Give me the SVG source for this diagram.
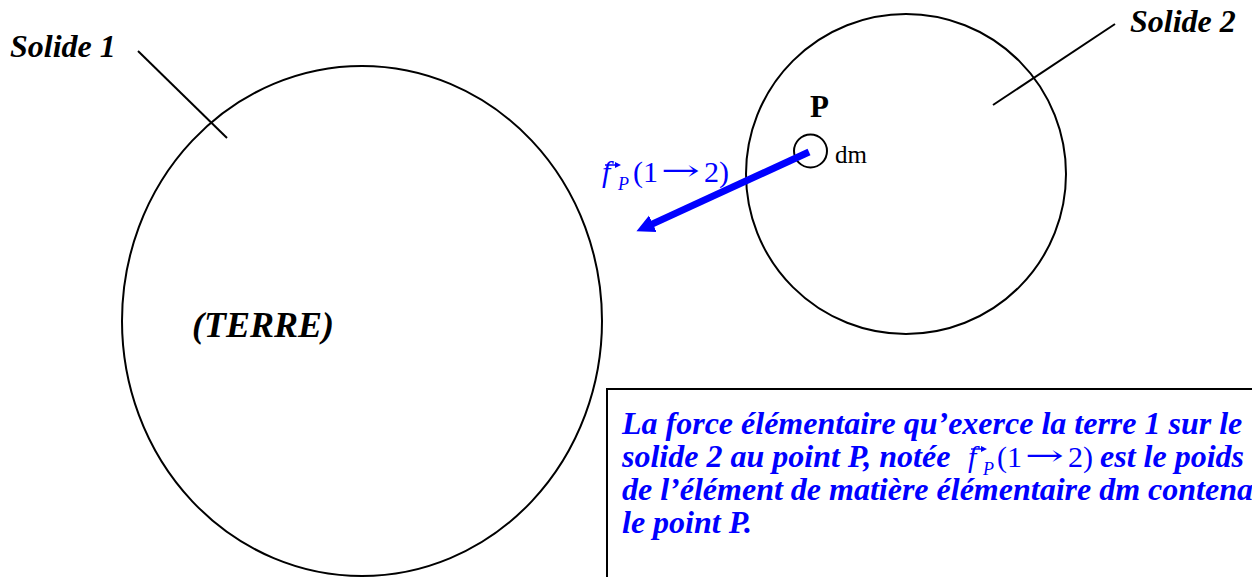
<svg xmlns="http://www.w3.org/2000/svg" width="1252" height="577" viewBox="0 0 1252 577">
<style>
.outline{fill:none;stroke:#000;stroke-width:2}
.lead{stroke:#000;stroke-width:2;fill:none}
.lbl{font-family:"Liberation Serif","Times New Roman",serif;font-weight:bold;font-style:italic;fill:#000}
.blue{font-family:"Liberation Serif","Times New Roman",serif;fill:#0000FF}
.arr{font-family:"DejaVu Serif",serif;fill:#0000FF}
.box{font-family:"Liberation Serif","Times New Roman",serif;font-weight:bold;font-style:italic;fill:#0000FF;font-size:32px}
.force{stroke:#0000FF;stroke-width:7;fill:none}
</style>
<defs>
<marker id="ah" markerUnits="userSpaceOnUse" markerWidth="22" markerHeight="22" viewBox="0 -11 22 22" refX="2" refY="0" orient="auto">
<path d="M0,-9 L18,0 L0,9 z" fill="#0000FF"/>
</marker>
<marker id="va" markerUnits="userSpaceOnUse" markerWidth="8" markerHeight="8" viewBox="0 -4 8 8" refX="1" refY="0" orient="auto">
<path d="M0,-3 L6,0 L0,3 z" fill="#0000FF"/>
</marker>
</defs>
<rect width="1252" height="577" fill="#fff"/>

<g id="solide1">
<ellipse class="outline" cx="362" cy="321" rx="240" ry="255"/>
<text class="lbl" x="10" y="57" font-size="32">Solide 1</text>
<text class="lbl" x="192" y="337" font-size="36">(TERRE)</text>
</g>

<g id="solide2">
<ellipse class="outline" cx="906" cy="174" rx="160" ry="160"/>
<text class="lbl" x="1130" y="32" font-size="32">Solide 2</text>
</g>

<g id="pointP">
<circle class="outline" cx="810.5" cy="151" r="16.5"/>
<text x="810" y="117" font-family="Liberation Serif, serif" font-weight="bold" font-size="31">P</text>
<text x="835" y="163" font-family="Liberation Serif, serif" font-size="25">dm</text>
</g>

<g id="forceLabel">
<text class="blue" x="602" y="182" font-size="30" font-style="italic">f</text>
<line x1="605" y1="165" x2="616" y2="165" stroke="#0000FF" stroke-width="1.5" marker-end="url(#va)"/>
<text class="blue" x="618" y="190" font-size="18" font-style="italic">P</text>
<text class="blue" x="633" y="182" font-size="30">(1</text>
<text class="arr" x="661" y="180" font-size="28" textLength="39" lengthAdjust="spacingAndGlyphs">→</text>
<text class="blue" x="704" y="182" font-size="30">2)</text>
</g>

<g id="connectors">
<line class="lead" x1="138" y1="51" x2="227" y2="138"/>
<line class="lead" x1="993" y1="105" x2="1115" y2="24"/>
<line class="force" x1="809" y1="152" x2="651" y2="224.6" marker-end="url(#ah)"/>
</g>

<g id="textbox">
<rect x="607" y="389" width="700" height="250" fill="#fff" stroke="#000" stroke-width="2"/>
<text class="box" x="622" y="434">La force élémentaire qu’exerce la terre 1 sur le</text>
<text class="box" x="622" y="467">solide 2 au point P, notée</text>
<text class="blue" x="968" y="467" font-size="30" font-style="italic">f</text>
<line x1="971" y1="449" x2="982" y2="449" stroke="#0000FF" stroke-width="1.4" marker-end="url(#va)"/>
<text class="blue" x="983" y="475" font-size="18" font-style="italic">P</text>
<text class="blue" x="997" y="467" font-size="30">(1</text>
<text class="arr" x="1025" y="465" font-size="28" textLength="39" lengthAdjust="spacingAndGlyphs">→</text>
<text class="blue" x="1068" y="467" font-size="30">2)</text>
<text class="box" x="1100" y="467">est le poids</text>
<text class="box" x="622" y="500">de l’élément de matière élémentaire dm contenant</text>
<text class="box" x="622" y="533">le point P.</text>
</g>
</svg>
